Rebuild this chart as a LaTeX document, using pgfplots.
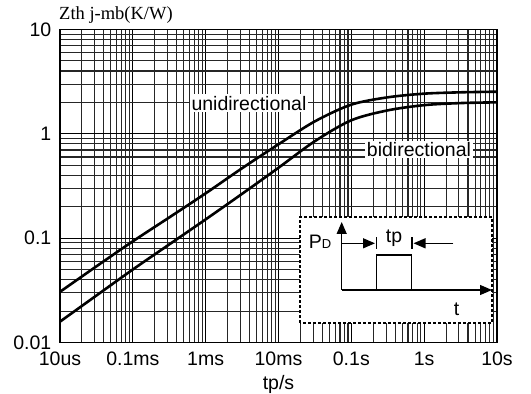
\documentclass[border=0pt]{standalone}
\usepackage{pgfplots}
\pgfplotsset{compat=1.18}
\usetikzlibrary{arrows.meta}
\usepackage{fontspec}
\setmainfont{Liberation Sans}
\newfontfamily\seriffont{Liberation Serif}
\begin{document}
\fontsize{19.5}{22}\selectfont
\begin{tikzpicture}
\useasboundingbox (-60pt,-51.5pt) rectangle (471pt,342.5pt);
\begin{axis}[
  scale only axis,
  width=437pt, height=313pt,
  xmode=log, ymode=log,
  xmin=1e-5, xmax=10, ymin=0.01, ymax=10,
  xtick={1e-5,1e-4,1e-3,1e-2,1e-1,1,10},
  xticklabels={10us,0.1ms,1ms,10ms,0.1s,1s,10s},
  ytick={0.01,0.1,1,10},
  yticklabels={0.01,0.1,1,10},
  major tick length=0pt, minor tick length=0pt,
  grid=both,
  major grid style={black, line width=1.1pt},
  minor grid style={black!85, line width=1.1pt},
  axis line style={black, line width=1.2pt},
  tick label style={font=\fontsize{19.5}{22}\selectfont},
  xticklabel style={yshift=-3pt},
  yticklabel style={xshift=-2pt},
  xlabel={tp/s},
  xlabel style={font=\fontsize{19.5}{22}\selectfont, yshift=4pt},
  clip=true,
]
\addplot[black, line width=2.6pt, smooth] coordinates {
(1e-5,0.0306) (3.162e-5,0.0537) (1e-4,0.0933) (3.162e-4,0.158) (1e-3,0.269)
(3.162e-3,0.468) (1e-2,0.794) (3.162e-2,1.318) (0.1,1.905) (0.3162,2.239)
(1,2.427) (3.162,2.500) (10,2.535)};
\addplot[black, line width=2.6pt, smooth] coordinates {
(1e-5,0.01585) (3.162e-5,0.0282) (1e-4,0.0501) (3.162e-4,0.0871) (1e-3,0.1514)
(3.162e-3,0.266) (1e-2,0.473) (3.162e-2,0.851) (0.1,1.349) (0.3162,1.679)
(1,1.884) (3.162,1.972) (10,2.004)};
\node[fill=white, inner sep=1.5pt, font=\fontsize{19.5}{22}\selectfont] at (rel axis cs:0.4325,0.765) {unidirectional};
\node[fill=white, inner sep=1.5pt, font=\fontsize{19.5}{22}\selectfont] at (rel axis cs:0.8215,0.6166) {bidirectional};
\end{axis}
% inset schematic
\draw[fill=white, line width=1.1pt, dash pattern=on 3pt off 2pt] (240pt,19.5pt) rectangle (432pt,125.5pt);
\draw[line width=1.3pt, -{Triangle[length=12pt,width=10pt]}] (281.7pt,52.5pt) -- (281.7pt,120.5pt);
\draw[line width=1.3pt, -{Triangle[length=12pt,width=10pt]}] (281.7pt,52.5pt) -- (432pt,52.5pt);
\draw[line width=1.3pt] (316.7pt,52.5pt) rectangle (351.7pt,87.5pt);
\draw[line width=1.3pt, -{Triangle[length=12pt,width=10pt]}] (281.7pt,99.2pt) -- (315pt,99.2pt);
\draw[line width=1.3pt] (316.7pt,93.5pt) -- (316.7pt,105.5pt);
\draw[line width=1.3pt, -{Triangle[length=12pt,width=10pt]}] (393.3pt,99.2pt) -- (353.5pt,99.2pt);
\draw[line width=1.3pt] (352pt,93.5pt) -- (352pt,105.5pt);
\node at (334pt,104.2pt) {tp};
\node at (260pt,100.8pt) {P{\fontsize{13}{13}\selectfont D}};
\node at (396.7pt,33pt) {t};
\node[anchor=west, font=\seriffont\fontsize{18.5}{20}\selectfont, inner sep=0pt] at (-1pt,327.5pt) {Zth j-mb(K/W)};
\end{tikzpicture}
\end{document}
